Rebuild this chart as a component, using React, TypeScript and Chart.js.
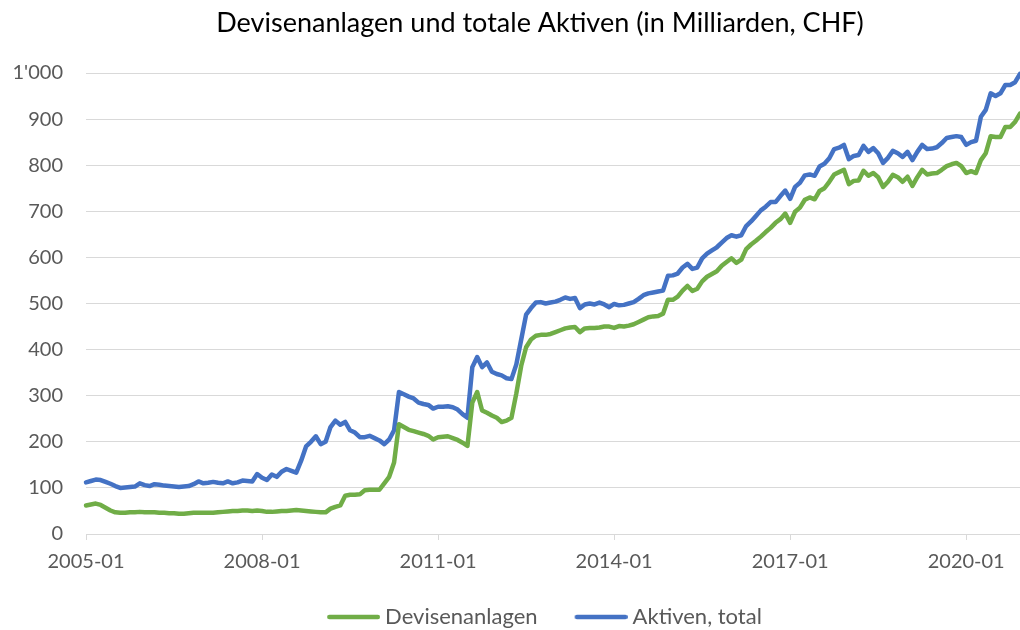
import { useEffect, useRef } from 'react';
import { Chart, registerables } from 'chart.js';

Chart.register(...registerables);

const TITLE = 'Devisenanlagen und totale Aktiven (in Milliarden, CHF)';
const START_YEAR = 2005;
const MONTH_COUNT = 192; // 2005-01 .. 2020-12
const LABEL_EVERY = 36;

const categories: string[] = Array.from({ length: MONTH_COUNT }, (_, i) =>
  `${START_YEAR + Math.floor(i / 12)}-${String((i % 12) + 1).padStart(2, '0')}`
);

const seriesNames = ['Devisenanlagen', 'Aktiven, total'];

// Devisenanlagen (billions CHF), monthly, one row per year
const devisenanlagen: number[] = [
  62, 64, 66, 63, 57, 51, 47, 46, 46, 47, 47, 48, // 2005
  47, 47, 47, 46, 46, 45, 45, 44, 44, 45, 46, 46, // 2006
  46, 46, 46, 47, 48, 49, 50, 50, 51, 51, 50, 51, // 2007
  50, 48, 48, 49, 50, 50, 51, 52, 51, 50, 49, 48, // 2008
  47, 47, 55, 59, 62, 83, 85, 85, 86, 95, 96, 96, // 2009
  96, 110, 124, 155, 238, 232, 226, 223, 220, 217, 213, 205, // 2010
  210, 211, 212, 208, 204, 198, 191, 285, 308, 268, 263, 257, // 2011
  252, 243, 246, 252, 305, 365, 405, 422, 430, 432, 432, 434, // 2012
  438, 442, 446, 448, 449, 438, 446, 447, 447, 448, 450, 450, // 2013
  447, 451, 450, 452, 455, 460, 465, 470, 472, 473, 478, 508, // 2014
  508, 515, 528, 538, 527, 532, 548, 558, 564, 570, 582, 590, // 2015
  598, 588, 595, 618, 628, 636, 645, 655, 664, 675, 683, 695, // 2016
  675, 699, 708, 725, 730, 726, 744, 750, 764, 780, 785, 790, // 2017
  759, 766, 767, 788, 777, 783, 774, 753, 764, 779, 774, 764, // 2018
  775, 755, 774, 790, 780, 782, 783, 790, 798, 802, 805, 798, // 2019
  783, 787, 783, 811, 826, 863, 861, 861, 883, 883, 894, 912, // 2020
];

// Aktiven, total (billions CHF), monthly, one row per year
const aktivenTotal: number[] = [
  112, 115, 118, 117, 113, 109, 104, 100, 101, 102, 103, 110, // 2005
  106, 104, 108, 107, 105, 104, 103, 102, 103, 104, 108, 114, // 2006
  110, 111, 113, 111, 110, 114, 110, 112, 116, 115, 114, 130, // 2007
  122, 117, 129, 124, 135, 141, 137, 133, 159, 190, 200, 212, // 2008
  195, 200, 232, 246, 237, 243, 225, 220, 210, 210, 213, 208, // 2009
  203, 195, 205, 225, 308, 303, 298, 294, 285, 282, 280, 272, // 2010
  276, 276, 277, 275, 270, 260, 252, 362, 384, 362, 372, 352, // 2011
  347, 344, 338, 336, 368, 422, 476, 490, 502, 503, 500, 502, // 2012
  504, 508, 513, 510, 512, 490, 498, 500, 498, 502, 498, 492, // 2013
  499, 496, 497, 500, 503, 510, 518, 522, 524, 526, 528, 560, // 2014
  561, 565, 578, 586, 575, 578, 598, 608, 615, 622, 632, 642, // 2015
  648, 645, 648, 668, 678, 690, 702, 710, 720, 720, 733, 745, // 2016
  727, 753, 762, 778, 780, 777, 797, 803, 815, 835, 838, 844, // 2017
  813, 820, 822, 842, 829, 837, 826, 805, 816, 831, 826, 818, // 2018
  829, 811, 829, 844, 835, 836, 839, 848, 859, 861, 863, 861, // 2019
  844, 850, 853, 905, 920, 956, 950, 956, 974, 974, 980, 998, // 2020
];

const Y_MIN = 0;
const Y_MAX = 1000;
const Y_STEP = 100;

const COLORS = ['#70AD47', '#4472C4'];
const FONT = 'Lato';

function fmtSwiss(v: number): string {
  const s = String(Math.round(v));
  return s.replace(/\B(?=(\d{3})+(?!\d))/g, "'");
}

// legend swatch: a short thick line, drawn into a small canvas
const SWATCH_BOX = 56;
function makeSwatch(color: string): HTMLCanvasElement {
  const c = document.createElement('canvas');
  c.width = 68;
  c.height = 10;
  const g = c.getContext('2d')!;
  g.strokeStyle = color;
  g.lineWidth = 4.5;
  g.lineCap = 'round';
  g.beginPath();
  g.moveTo(17.25, 5);
  g.lineTo(65.75, 5);
  g.stroke();
  return c;
}

export default function App() {
  const ref = useRef<HTMLCanvasElement>(null);

  useEffect(() => {
    document.body.style.margin = '0';
    const canvas = ref.current;
    if (!canvas) return;
    const seriesData = [devisenanlagen, aktivenTotal];
    const chart = new Chart(canvas, {
      type: 'line',
      data: {
        labels: categories,
        datasets: seriesNames.map((name, i) => ({
          label: name,
          data: seriesData[i],
          borderColor: COLORS[i],
          backgroundColor: COLORS[i],
          borderWidth: 4.5,
          pointRadius: 0,
          pointHoverRadius: 0,
          pointStyle: makeSwatch(COLORS[i]),
          tension: 0,
          borderCapStyle: 'round' as const,
          borderJoinStyle: 'round' as const,
          fill: false,
          clip: 6,
        })),
      },
      options: {
        animation: false,
        responsive: false,
        devicePixelRatio: 1,
        layout: { padding: { left: 0, right: 0, top: 0, bottom: 0 } },
        plugins: {
          title: {
            display: true,
            text: TITLE,
            color: '#000000',
            font: { family: FONT, size: 27, weight: 'normal' },
            padding: { top: 7, bottom: 33.6 },
          },
          legend: {
            display: true,
            position: 'bottom',
            labels: {
              usePointStyle: true,
              pointStyleWidth: SWATCH_BOX,
              boxHeight: 20,
              color: '#595959',
              font: { family: FONT, size: 22 },
              padding: 28,
            },
          },
          tooltip: { enabled: false },
        },
        scales: {
          x: {
            type: 'category',
            offset: false,
            grid: {
              drawOnChartArea: false,
              drawTicks: true,
              tickLength: 6,
              color: (ctx: any) => (ctx.index % LABEL_EVERY === 0 ? '#d9d9d9' : 'rgba(0,0,0,0)'),
            },
            border: { display: true, color: '#d9d9d9', width: 1 },
            ticks: {
              autoSkip: false,
              maxRotation: 0,
              minRotation: 0,
              padding: 12,
              color: '#595959',
              font: { family: FONT, size: 20, lineHeight: 1.0 },
              callback: (_v: any, i: number) => (i % LABEL_EVERY === 0 ? categories[i] : ''),
            },
            afterFit: (scale: any) => {
              scale.paddingRight = 60;
              scale.height = 44;
            },
          },
          y: {
            min: Y_MIN,
            max: Y_MAX,
            grid: { color: '#d9d9d9', drawTicks: false, lineWidth: 1 },
            border: { display: false },
            ticks: {
              stepSize: Y_STEP,
              padding: 23,
              color: '#595959',
              font: { family: FONT, size: 20 },
              callback: (v: any) => fmtSwiss(Number(v)),
            },
            afterFit: (scale: any) => {
              scale.width = 86;
            },
          },
        },
      },
    });
    return () => chart.destroy();
  }, []);

  return (
    <div style={{ width: 1020, height: 630, overflow: 'hidden' }}>
      <canvas ref={ref} width={1080} height={638} style={{ display: 'block' }} />
    </div>
  );
}
